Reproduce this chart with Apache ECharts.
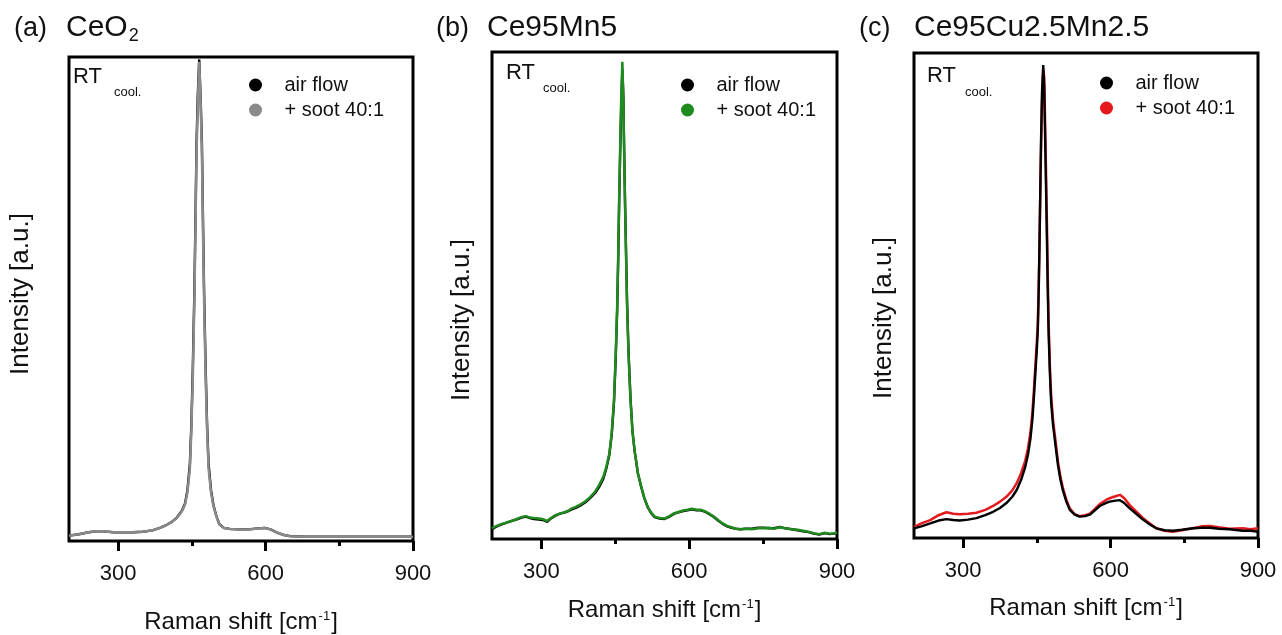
<!DOCTYPE html>
<html>
<head>
<meta charset="utf-8">
<script src="https://cdn.jsdelivr.net/npm/echarts@6/dist/echarts.min.js"></script>
<style>
  html, body { margin: 0; padding: 0; background: #fff; }
  #chart { width: 1282px; height: 635px; }
</style>
</head>
<body>
<div id="chart"></div>
<script>
// Raman spectra (intensity normalised so the axis runs 0..1)
var shiftA = [200, 220, 240, 255, 270, 290, 310, 330, 350, 370,
              385, 400, 410, 420, 430, 436, 441, 446, 449, 452,
              455, 457, 459.5, 462, 465, 468, 470.5, 473, 475, 478,
              481, 484, 489, 494, 500, 506, 515, 527, 545, 565,
              585, 598, 610, 622, 635, 650, 680, 750, 800, 900];
var airA = [.011, .014, .018, .020, .020, .018, .018, .018, .019, .022,
            .027, .034, .040, .049, .063, .077, .105, .16, .24, .36,
            .51, .64, .82, .92, .995, .91, .82, .64, .51, .36,
            .24, .16, .105, .074, .051, .035, .027, .025, .024, .024,
            .026, .027, .024, .018, .013, .010, .009, .009, .009, .009];
var sootA = [.011, .014, .018, .020, .020, .018, .018, .018, .019, .022,
             .027, .034, .040, .048, .062, .075, .10, .15, .23, .34,
             .49, .62, .80, .90, .99, .90, .80, .62, .49, .34,
             .23, .15, .10, .072, .050, .034, .027, .025, .024, .024,
             .026, .027, .024, .018, .013, .010, .009, .009, .009, .009];

var shiftB = [200, 205, 212, 220, 228, 235, 243, 252, 260, 269,
              277, 285, 295, 303, 312, 318, 329, 338, 347, 355,
              362, 370, 378, 389, 398, 409, 417, 426, 432, 438,
              443, 447.5, 451, 454, 456, 458, 460, 462, 464.5, 466.5,
              468, 470, 472, 474, 477, 481, 485, 489.5, 496, 503,
              509, 516, 523, 530, 540, 550, 560, 570, 580, 590,
              597, 605, 615, 623, 632, 641, 650, 660, 668, 677,
              686, 695, 704, 715, 727, 740, 751, 762, 772, 784,
              795, 808, 820, 831, 842, 853, 864, 875, 885, 894, 900];
var airB = [.020, .023, .027, .030, .033, .035, .038, .041, .044, .046,
            .043, .041, .040, .039, .035, .041, .048, .052, .054, .057,
            .061, .064, .068, .075, .083, .094, .106, .124, .145, .172,
            .215, .28, .37, .47, .57, .69, .79, .88, .965, .91,
            .81, .69, .59, .49, .385, .29, .222, .18, .135, .106,
            .084, .065, .053, .045, .042, .041, .046, .052, .055, .058,
            .059, .061, .059, .059, .056, .051, .045, .037, .031, .026,
            .023, .021, .020, .021, .021, .023, .023, .022, .022, .025,
            .022, .020, .018, .016, .014, .011, .009, .012, .010, .011, .012];
var sootB = [.022, .025, .028, .031, .033, .036, .038, .042, .045, .047,
             .044, .043, .042, .041, .037, .042, .049, .052, .055, .058,
             .063, .066, .070, .077, .085, .097, .110, .128, .148, .175,
             .22, .285, .38, .48, .58, .70, .80, .90, .98, .90,
             .80, .68, .58, .48, .38, .285, .22, .18, .135, .107,
             .085, .066, .054, .046, .043, .042, .047, .053, .056, .059,
             .060, .062, .060, .060, .057, .052, .046, .038, .032, .027,
             .024, .021, .020, .021, .020, .022, .022, .023, .021, .024,
             .022, .020, .019, .017, .015, .012, .010, .013, .011, .012, .013];

var shiftC = [200, 215, 233, 250, 266, 280, 293, 310, 327, 345,
              361, 375, 388, 400, 409, 418, 426, 432, 437, 441,
              444, 447, 450, 452, 454, 455.5, 457, 458.5, 460.5, 463,
              465, 466.5, 468, 470.5, 472, 474, 476.5, 479, 483, 488,
              493, 498, 503, 510, 517, 527, 537, 548, 558, 568,
              578, 590, 598, 610, 619, 628, 639, 652, 666, 680,
              693, 710, 727, 745, 768, 785, 802, 820, 842, 869, 885, 900];
var airC = [.020, .024, .030, .036, .039, .037, .036, .038, .041, .047,
            .054, .062, .072, .085, .099, .120, .145, .172, .205, .245,
            .29, .34, .39, .43, .52, .615, .72, .82, .92, .975,
            .93, .84, .76, .615, .52, .42, .34, .28, .232, .19,
            .15, .12, .098, .075, .058, .048, .044, .045, .048, .057,
            .066, .072, .075, .077, .078, .072, .061, .050, .038, .028,
            .020, .016, .015, .017, .020, .021, .021, .019, .018, .015, .015, .013];
var sootC = [.023, .030, .037, .047, .053, .050, .049, .050, .052, .058,
             .066, .075, .085, .098, .113, .134, .158, .185, .218, .26,
             .305, .355, .405, .445, .53, .615, .71, .80, .90, .965,
             .95, .87, .79, .65, .55, .44, .355, .295, .242, .20,
             .157, .126, .103, .079, .061, .049, .045, .047, .050, .060,
             .070, .078, .082, .086, .089, .082, .068, .055, .041, .030,
             .020, .015, .013, .016, .020, .024, .025, .022, .019, .020, .018, .020];

var majorTicks = [300, 600, 900];
var minorTicks = [450, 750];

var FONT = '"Liberation Sans", Arial, sans-serif';
var INK = '#111';

function pairs(xs, ys) {
    return xs.map(function (x, i) { return [x, ys[i]]; });
}

var panels = [
    {key: 'a', title: '(a)', name: 'CeO', sub: '2', color: '#8a8a8a',
     grid: {left: 69, top: 57, width: 344, height: 484}, nameGap: 69, labelMargin: 22,
     shift: shiftA, air: airA, soot: sootA, airOnTop: false,
     titleX: 14, nameX: 66, legendX: 249, legendY: 75, yName: [21, 294],
     rt: [73, 66], cool: [114, 86]},
    {key: 'b', title: '(b)', name: 'Ce95Mn5', sub: '', color: '#1f8b1f',
     grid: {left: 492, top: 52, width: 345, height: 487}, nameGap: 59, labelMargin: 22,
     shift: shiftB, air: airB, soot: sootB, airOnTop: false,
     titleX: 436, nameX: 487, legendX: 681, legendY: 75, yName: [462, 320],
     rt: [506, 62], cool: [543, 82]},
    {key: 'c', title: '(c)', name: 'Ce95Cu2.5Mn2.5', sub: '', color: '#e41a1c',
     grid: {left: 914, top: 53, width: 344, height: 485}, nameGap: 58, labelMargin: 22,
     shift: shiftC, air: airC, soot: sootC, airOnTop: true,
     titleX: 859, nameX: 914, legendX: 1100, legendY: 73, yName: [884, 318],
     rt: [927, 65], cool: [965, 86]}
];

var grids = [], xAxes = [], yAxes = [], series = [], legends = [], graphics = [];

panels.forEach(function (p, i) {
    grids.push(Object.assign({show: true, borderColor: '#000', borderWidth: 3,
                              backgroundColor: '#fff', containLabel: false,
                              outerBoundsMode: 'none'}, p.grid));

    // major ticks + labels + axis name
    xAxes.push({
        type: 'value', gridIndex: i, position: 'bottom', min: 200, max: 900,
        axisLine: {show: false, onZero: false},
        splitLine: {show: false},
        axisTick: {show: true, inside: false, length: 10, customValues: majorTicks,
                   lineStyle: {color: '#000', width: 3}},
        axisLabel: {customValues: majorTicks, margin: p.labelMargin, color: INK,
                    fontSize: 22, fontFamily: FONT},
        name: 'Raman shift [cm{sup|-1}]',
        nameLocation: 'middle', nameGap: p.nameGap,
        nameTextStyle: {color: INK, fontSize: 24, fontFamily: FONT,
                        rich: {sup: {fontSize: 13, fontFamily: FONT, color: INK,
                                     padding: [0, 1, 12, 1]}}}
    });
    // minor ticks
    xAxes.push({
        type: 'value', gridIndex: i, position: 'bottom', min: 200, max: 900,
        axisLine: {show: false, onZero: false},
        splitLine: {show: false},
        axisLabel: {show: false},
        axisTick: {show: true, inside: false, length: 5, customValues: minorTicks,
                   lineStyle: {color: '#000', width: 3}}
    });
    yAxes.push({
        type: 'value', gridIndex: i, min: 0, max: 1,
        axisLine: {show: false}, axisTick: {show: false},
        axisLabel: {show: false}, splitLine: {show: false}
    });

    var airSeries = {
        name: p.key + '|air flow', type: 'line', xAxisIndex: 2 * i, yAxisIndex: i,
        showSymbol: false, silent: true,
        itemStyle: {color: '#000'},
        lineStyle: {color: '#000', width: 2.4},
        data: pairs(p.shift, p.air)
    };
    var sootSeries = {
        name: p.key + '|+ soot 40:1', type: 'line', xAxisIndex: 2 * i, yAxisIndex: i,
        showSymbol: false, silent: true,
        itemStyle: {color: p.color},
        lineStyle: {color: p.color, width: 2.5},
        data: pairs(p.shift, p.soot)
    };
    if (p.airOnTop) {
        series.push(sootSeries, airSeries);
    } else {
        series.push(airSeries, sootSeries);
    }

    legends.push({
        data: [p.key + '|air flow', p.key + '|+ soot 40:1'],
        orient: 'vertical', left: p.legendX, top: p.legendY,
        icon: 'circle', itemWidth: 48, itemHeight: 13, itemGap: 5, padding: 0,
        selectedMode: false,
        formatter: function (n) { return n.split('|')[1]; },
        textStyle: {color: INK, fontSize: 20, fontFamily: FONT}
    });

    // panel title
    graphics.push({
        type: 'text', left: p.titleX, top: 15,
        style: {text: p.title, fontSize: 27, fontFamily: FONT, fill: INK}
    });
    graphics.push({
        type: 'text', left: p.nameX, top: 13,
        style: {text: p.sub ? p.name + '{s|' + p.sub + '}' : p.name,
                fontSize: 30, fontFamily: FONT, fill: INK,
                rich: {s: {fontSize: 18, fontFamily: FONT, fill: INK,
                           padding: [16, 0, 0, 1]}}}
    });
    // y axis name
    graphics.push({
        type: 'text', x: p.yName[0], y: p.yName[1], rotation: Math.PI / 2,
        style: {text: 'Intensity [a.u.]', fontSize: 26, fontFamily: FONT, fill: INK,
                align: 'center', verticalAlign: 'middle'}
    });
    // RT cool. label
    graphics.push({
        type: 'text', left: p.rt[0], top: p.rt[1],
        style: {text: 'RT', fontSize: 22, fontFamily: FONT, fill: INK}
    });
    graphics.push({
        type: 'text', left: p.cool[0], top: p.cool[1],
        style: {text: 'cool.', fontSize: 13, fontFamily: FONT, fill: INK}
    });
});

var chart = echarts.init(document.getElementById('chart'));
chart.setOption({
    animation: false,
    backgroundColor: '#fff',
    grid: grids,
    xAxis: xAxes,
    yAxis: yAxes,
    legend: legends,
    series: series,
    graphic: graphics
});
</script>
</body>
</html>
